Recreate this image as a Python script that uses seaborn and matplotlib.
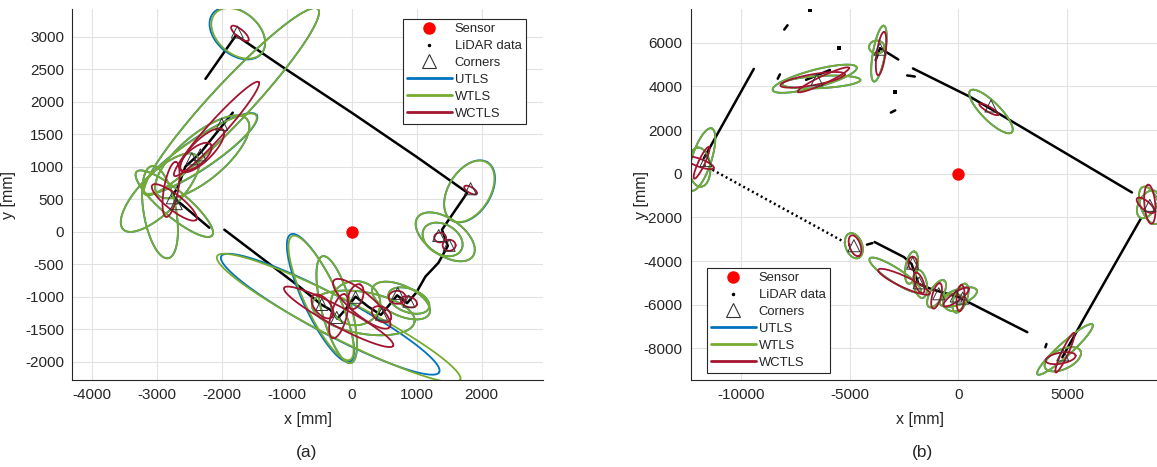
import numpy as np
import pandas as pd
import matplotlib
matplotlib.use("Agg")
import matplotlib.pyplot as plt
import seaborn as sns
from matplotlib.lines import Line2D

sns.set_style("white")
plt.rcParams['font.family'] = ['Liberation Sans', 'DejaVu Sans']
plt.rcParams['axes.unicode_minus'] = False

# ---------------- data: panel (a) ----------------
sensor_xy = (0, 0)

a_lidar_1_x = [-2250, -1780]
a_lidar_1_y = [2350, 3020]
a_lidar_2_x = [-1780, -1000, 0, 1000, 1780, 1390, 1480, 1335, 1136, 994, 852,
               700, 560, 450, 250, 60, -100, -220, -330, -470, -800, -1960]
a_lidar_2_y = [3020, 2490, 1830, 1150, 600, 30, -220, -480, -690, -940, -1100,
               -980, -1150, -1280, -1150, -1000, -1200, -1340, -1200, -1120, -850, 30]
a_lidar_3_x = [-1830, -2000, -2330, -2560, -2670, -2760, -2190]
a_lidar_3_y = [1830, 1620, 1210, 1000, 700, 540, 60]

a_corner_x = [-1760, -2000, -2330, -2460, -2760, -2700, 1830, 1340, 1500,
              -460, -230, 60, 460, 710, 880]
a_corner_y = [3070, 1650, 1180, 1120, 520, 430, 660, -60, -210,
              -1120, -1320, -1010, -1270, -950, -1070]

# ellipses: (center x, center y, semi-major, semi-minor, angle deg)
a_utls = [(-1760, 3050, 485, 330, -40), (-1850, 2000, 1950, 300, 47),
          (-2340, 1200, 1060, 235, 34), (-2300, 1150, 900, 350, 40),
          (-2950, 600, 800, 300, 45), (-2950, 300, 720, 250, 100),
          (-2730, 430, 760, 200, -40), (1815, 620, 525, 325, 58),
          (1440, -80, 520, 280, -35), (1400, -120, 330, 230, -30),
          (-330, -1270, 1900, 300, -28), (-480, -1020, 1080, 270, -65),
          (-230, -1200, 850, 230, -75), (180, -1250, 800, 320, -10),
          (60, -1100, 380, 340, 0), (760, -1060, 480, 230, -25),
          (880, -1060, 330, 180, -20)]
a_wtls = [(-1745, 3050, 470, 320, -40), (-1850, 2000, 1950, 300, 47),
          (-2340, 1200, 1050, 230, 34), (-2300, 1150, 900, 350, 40),
          (-2950, 600, 800, 300, 45), (-2950, 300, 720, 250, 100),
          (-2730, 430, 760, 200, -40), (1810, 620, 520, 320, 58),
          (1440, -80, 520, 280, -35), (1400, -120, 330, 230, -30),
          (-200, -1330, 2100, 300, -27), (-470, -1020, 1050, 260, -65),
          (-230, -1200, 850, 230, -75), (180, -1250, 800, 320, -10),
          (60, -1100, 380, 340, 0), (760, -1060, 480, 230, -25),
          (880, -1060, 330, 180, -20)]
a_wctls = [(-1720, 3050, 170, 60, -40), (-2080, 1580, 970, 130, 48),
           (-2300, 1250, 450, 160, 45), (-2400, 1150, 300, 130, 40),
           (-2730, 450, 430, 120, -38), (-2780, 650, 430, 110, 80),
           (1830, 640, 110, 45, -30), (1360, -90, 90, 75, 0),
           (1500, -210, 100, 85, 0), (-200, -1310, 950, 150, -28),
           (155, -1110, 560, 170, -40), (-450, -1150, 220, 120, -50),
           (-200, -1300, 350, 120, 75), (60, -1000, 200, 110, 70),
           (460, -1270, 160, 110, -30), (700, -1010, 130, 100, 0),
           (880, -1080, 130, 80, -20)]

# ---------------- data: panel (b) ----------------
b_lidar_1_x = [-11700, -9400]
b_lidar_1_y = [700, 4800]
b_lidar_dotted_x = [-11700, -4950]
b_lidar_dotted_y = [400, -3290]
b_lidar_3_x = [-3850, -2500, -2150, -1830, -1200, -500, 0, 3170]
b_lidar_3_y = [-3130, -3820, -4130, -5050, -5300, -5500, -5650, -7260]
b_lidar_4_x = [-2085, 540, 1730, 7980]
b_lidar_4_y = [4820, 3520, 2830, -860]
b_lidar_5_x = [8390, 5800, 4780]
b_lidar_5_y = [-2050, -6580, -8410]
b_lidar_6_x = [-7000, -5900]
b_lidar_6_y = [4300, 4750]
b_lidar_7_x = [-3800, -3600, -2760]
b_lidar_7_y = [5200, 5750, 5230]
b_lidar_8_x = [-4200, -3950]
b_lidar_8_y = [-3250, -3180]
b_lidar_9_x = [-8300, -8200]
b_lidar_9_y = [4350, 4550]
b_lidar_10_x = [-8000, -7850]
b_lidar_10_y = [6600, 6800]
b_lidar_11_x = [-3100, -2900]
b_lidar_11_y = [2800, 2900]
b_lidar_12_x = [-2350, -2000]
b_lidar_12_y = [4500, 4450]
b_lidar_13_x = [4000, 4050]
b_lidar_13_y = [-7950, -7800]
b_speck_x = [-6800, -5480, -2930]
b_speck_y = [7480, 5770, 3720]

b_corner_x = [-11600, -6500, -3600, 1500, 8800, 4800, -4800, -2100, -1800, -900, -100, 200]
b_corner_y = [600, 4300, 5700, 3100, -1450, -8300, -3300, -4100, -5000, -5500, -5600, -5700]

b_utls = [(-11800, 650, 1500, 450, 72), (-11900, 300, 900, 500, 95),
          (-6600, 4350, 2000, 400, 15), (-6300, 4200, 1800, 280, 3),
          (-3650, 5500, 1300, 280, 80), (-3750, 5800, 350, 300, 0),
          (1500, 2850, 1350, 420, -45), (8800, -1450, 900, 420, 110),
          (8700, -1400, 700, 400, 60), (4900, -8050, 1700, 300, 42),
          (4800, -8500, 900, 450, 25), (-4800, -3300, 600, 380, -70),
          (-2900, -4650, 1400, 320, -33), (-2150, -4300, 750, 280, 80),
          (-1750, -5050, 650, 300, 100), (-1000, -5500, 700, 300, 60),
          (0, -5650, 900, 350, 20), (100, -5700, 700, 300, 70),
          (-200, -5900, 500, 400, 0)]
b_wtls = [(-11800, 650, 1500, 450, 72), (-11900, 300, 900, 500, 95),
          (-6600, 4350, 2000, 400, 15), (-6300, 4200, 1800, 280, 3),
          (-3650, 5500, 1300, 280, 80), (-3750, 5800, 350, 300, 0),
          (1500, 2850, 1350, 420, -45), (8800, -1450, 900, 420, 110),
          (8700, -1400, 700, 400, 60), (4900, -8050, 1700, 300, 42),
          (4800, -8500, 900, 450, 25), (-4800, -3300, 600, 380, -70),
          (-2900, -4650, 1400, 320, -33), (-2150, -4300, 750, 280, 80),
          (-1750, -5050, 650, 300, 100), (-1000, -5500, 700, 300, 60),
          (0, -5650, 900, 350, 20), (100, -5700, 700, 300, 70),
          (-200, -5900, 500, 400, 0)]
b_wctls = [(-11800, 500, 800, 150, 65), (-11900, 500, 700, 180, -20),
           (-6700, 4300, 1500, 250, 10), (-6200, 4300, 1300, 180, 25),
           (-3550, 5500, 1000, 200, 82), (1400, 2950, 500, 120, -30),
           (8800, -1400, 900, 250, 95), (8600, -1450, 500, 200, -40),
           (4900, -8200, 1000, 150, 65), (4700, -8450, 700, 250, 10),
           (-4750, -3300, 500, 250, -70), (-2100, -4100, 300, 200, 90),
           (-2500, -4950, 1300, 250, -25), (-1800, -5000, 500, 200, 110),
           (-1000, -5600, 600, 200, 75), (-100, -5650, 700, 200, 35),
           (100, -5700, 600, 180, 85)]

labels = ["Sensor", "LiDAR data", "Corners", "UTLS", "WTLS", "WCTLS"]
c_utls, c_wtls, c_wctls = "#0072BD", "#77AC30", "#A2142F"
INK = "#262626"


def ellipse_frame(params):
    t = np.linspace(0, 2 * np.pi, 241)
    parts = []
    for i, (cx, cy, a, b, ang) in enumerate(params):
        th = np.deg2rad(ang)
        x = cx + a * np.cos(t) * np.cos(th) - b * np.sin(t) * np.sin(th)
        y = cy + a * np.cos(t) * np.sin(th) + b * np.sin(t) * np.cos(th)
        parts.append(pd.DataFrame({"x": x, "y": y, "id": i}))
    return pd.concat(parts, ignore_index=True)


def poly_frame(polys):
    parts = [pd.DataFrame({"x": px, "y": py, "id": i}) for i, (px, py) in enumerate(polys)]
    return pd.concat(parts, ignore_index=True)


def style_axes(ax, xlim, ylim, xticks, yticks):
    ax.set_xlim(*xlim)
    ax.set_ylim(*ylim)
    ax.set_xticks(xticks)
    ax.set_yticks(yticks)
    ax.grid(True, color="#e2e2e2", lw=0.8)
    ax.set_axisbelow(True)
    for s in ("top", "right"):
        ax.spines[s].set_visible(False)
    for s in ("left", "bottom"):
        ax.spines[s].set_color(INK)
        ax.spines[s].set_linewidth(0.8)
    ax.tick_params(direction="in", length=3, width=0.7, color=INK,
                   labelsize=11, labelcolor=INK, pad=6)
    ax.set_xlabel("x [mm]", fontsize=11.5, color=INK, labelpad=2)
    ax.set_ylabel("y [mm]", fontsize=11.5, color=INK)


def draw_panel(ax, lines, dotted, corners_x, corners_y, utls, wtls, wctls, specks=None):
    sns.lineplot(data=poly_frame(lines), x="x", y="y", units="id", estimator=None,
                 sort=False, color="black", lw=1.8, ax=ax, legend=False)
    if dotted:
        sns.lineplot(data=poly_frame(dotted), x="x", y="y", units="id", estimator=None,
                     sort=False, color="black", lw=1.8, ls=(0, (0.8, 1.2)), ax=ax, legend=False)
    if specks:
        sns.scatterplot(x=specks[0], y=specks[1], color="black", s=6, marker="s",
                        linewidth=0, ax=ax, legend=False)
    for params, col in ((utls, c_utls), (wtls, c_wtls), (wctls, c_wctls)):
        sns.lineplot(data=ellipse_frame(params), x="x", y="y", units="id", estimator=None,
                     sort=False, color=col, lw=1.3, ax=ax, legend=False)
    sns.scatterplot(x=corners_x, y=corners_y, marker="^", s=75, facecolor="none",
                    edgecolor="#333333", linewidth=0.7, ax=ax, legend=False, zorder=5)
    sns.scatterplot(x=[sensor_xy[0]], y=[sensor_xy[1]], color="red", s=80,
                    linewidth=0, ax=ax, legend=False, zorder=6)


def add_legend(fig, x_px, y_px):
    handles = [
        Line2D([], [], marker="o", color="red", ls="none", markersize=8),
        Line2D([], [], marker=".", color="black", ls="none", markersize=3),
        Line2D([], [], marker="^", mfc="none", mec="#333333", ls="none", markersize=10, mew=0.8),
        Line2D([], [], color=c_utls, lw=2),
        Line2D([], [], color=c_wtls, lw=2),
        Line2D([], [], color=c_wctls, lw=2),
    ]
    leg = fig.legend(handles, labels, loc="upper left",
                     bbox_to_anchor=(x_px / 1157, 1 - y_px / 467),
                     bbox_transform=fig.transFigure, borderaxespad=0,
                     fontsize=9.4, handlelength=3.4, handletextpad=0.25,
                     labelspacing=0.36, borderpad=0.32, fancybox=False,
                     framealpha=1, edgecolor=INK)
    leg.get_frame().set_linewidth(0.8)
    for t in leg.get_texts():
        t.set_color(INK)


fig = plt.figure(figsize=(11.57, 4.67), dpi=100)

ax1 = fig.add_axes([72.3 / 1157, 87 / 467, 470.7 / 1157, 370.7 / 467])
draw_panel(ax1,
           [(a_lidar_1_x, a_lidar_1_y), (a_lidar_2_x, a_lidar_2_y), (a_lidar_3_x, a_lidar_3_y)],
           None, a_corner_x, a_corner_y, a_utls, a_wtls, a_wctls)
style_axes(ax1, (-4300, 2945), (-2282, 3420), np.arange(-4000, 2001, 1000),
           np.arange(-2000, 3001, 500))
ax1.yaxis.set_label_coords((16 - 72.3) / 470.7, 0.5)

ax2 = fig.add_axes([690.7 / 1157, 87 / 467, 466.3 / 1157, 370.7 / 467])
draw_panel(ax2,
           [(b_lidar_1_x, b_lidar_1_y), (b_lidar_3_x, b_lidar_3_y), (b_lidar_4_x, b_lidar_4_y),
            (b_lidar_5_x, b_lidar_5_y), (b_lidar_6_x, b_lidar_6_y), (b_lidar_7_x, b_lidar_7_y),
            (b_lidar_8_x, b_lidar_8_y), (b_lidar_9_x, b_lidar_9_y), (b_lidar_10_x, b_lidar_10_y),
            (b_lidar_11_x, b_lidar_11_y), (b_lidar_12_x, b_lidar_12_y), (b_lidar_13_x, b_lidar_13_y)],
           [(b_lidar_dotted_x, b_lidar_dotted_y)],
           b_corner_x, b_corner_y, b_utls, b_wtls, b_wctls,
           specks=(b_speck_x, b_speck_y))
style_axes(ax2, (-12300, 9130), (-9450, 7530), [-10000, -5000, 0, 5000],
           np.arange(-8000, 6001, 2000))
ax2.yaxis.set_label_coords((649 - 690.7) / 466.3, 0.5)
ax2.xaxis.set_label_coords((920 - 690.7) / 466.3, -0.085)
ax1.xaxis.set_label_coords(0.5, -0.085)

add_legend(fig, 403, 19)
add_legend(fig, 707, 268)

fig.text(307 / 1157, 1 - 453 / 467, "(a)", ha="center", va="center", fontsize=12.5, color=INK)
fig.text(922 / 1157, 1 - 453 / 467, "(b)", ha="center", va="center", fontsize=12.5, color=INK)

fig.savefig("out.png", dpi=100)
